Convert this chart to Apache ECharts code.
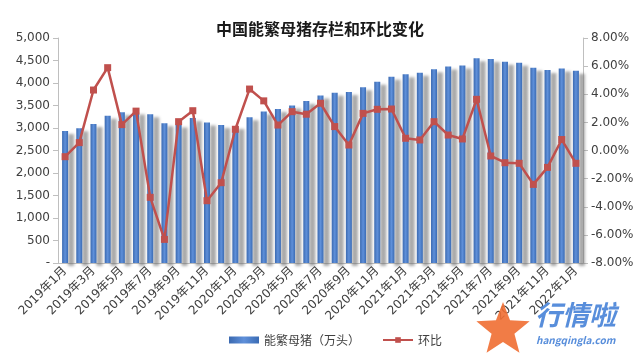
<!DOCTYPE html>
<html>
<head>
<meta charset="utf-8">
<script src="https://cdn.jsdelivr.net/npm/echarts@6/dist/echarts.min.js"></script>
<style>
html,body{margin:0;padding:0;background:#fff;}
#chart{width:640px;height:359px;}
</style>
</head>
<body>
<div id="chart"></div>
<script>
// 月份
var months = [];
for (var y = 2019; y <= 2022; y++) {
    for (var m = 1; m <= 12; m++) {
        if (y === 2022 && m > 1) break;
        months.push(y + '年' + m + '月');
    }
}

// 能繁母猪存栏（万头）
var sowStock = [2935, 2995, 3090, 3275, 3350, 3365, 3305, 3105, 3080, 3220,
    3125, 3065, 3045, 3240, 3365, 3420, 3500, 3600, 3720, 3785,
    3800, 3905, 4030, 4140, 4195, 4230, 4305, 4365, 4390, 4550,
    4535, 4475, 4450, 4340, 4290, 4325, 4275];

// 环比（%）
var momRate = [-0.44, 0.56, 4.30, 5.89, 1.84, 2.80, -3.33, -6.32, 2.05, 2.83,
    -3.57, -2.29, 1.51, 4.37, 3.53, 1.81, 2.76, 2.58, 3.36, 1.70,
    0.39, 2.64, 2.93, 2.95, 0.87, 0.75, 2.05, 1.10, 0.82, 3.64,
    -0.39, -0.87, -0.91, -2.41, -1.20, 0.78, -0.91];

var leftTicks = { min: 0, max: 5000, step: 500 };
var rightTicks = { min: -8, max: 8, step: 2 };

var FONT = '"Noto Sans CJK SC", "DejaVu Sans", sans-serif';
var NUMFONT = '"DejaVu Sans", "Noto Sans CJK SC", sans-serif';
var TXT = '#404040';
var AXIS = '#bfbfbf';

var chart = echarts.init(document.getElementById('chart'));

var barColor = new echarts.graphic.LinearGradient(0, 0, 1, 0, [
    { offset: 0, color: '#3a69b0' },
    { offset: 0.5, color: '#5f90da' },
    { offset: 1, color: '#3a6bb4' }
]);

// 水印五角星
function starPoints(cx, cy, ro, ri) {
    var pts = [];
    for (var i = 0; i < 10; i++) {
        var r = i % 2 === 0 ? ro : ri;
        var a = -Math.PI / 2 + i * Math.PI / 5;
        pts.push([cx + r * Math.cos(a), cy + r * Math.sin(a)]);
    }
    return pts;
}

chart.setOption({
    animation: false,
    backgroundColor: '#fff',
    title: {
        text: '中国能繁母猪存栏和环比变化',
        left: 'center',
        top: 16,
        textStyle: { fontFamily: FONT, fontSize: 16, fontWeight: 'bold', color: '#1a1a1a' }
    },
    grid: { left: 58, right: 57, top: 38, bottom: 96 },
    legend: {
        bottom: 8,
        left: 224,
        itemWidth: 30,
        itemHeight: 7,
        itemGap: 22,
        textStyle: { fontFamily: FONT, fontSize: 12, color: TXT },
        data: [
            { name: '能繁母猪（万头）', icon: 'rect' },
            { name: '环比' }
        ]
    },
    xAxis: {
        type: 'category',
        data: months,
        axisLine: { lineStyle: { color: AXIS } },
        axisTick: { interval: 1, length: 5, lineStyle: { color: AXIS } },
        axisLabel: {
            interval: 1,
            rotate: 45,
            fontFamily: NUMFONT,
            fontSize: 12,
            color: TXT,
            margin: 6
        }
    },
    yAxis: [
        {
            type: 'value',
            min: leftTicks.min,
            max: leftTicks.max,
            interval: leftTicks.step,
            splitLine: { show: false },
            axisLine: { show: true, lineStyle: { color: AXIS } },
            axisTick: { show: true, length: 5, lineStyle: { color: AXIS } },
            axisLabel: {
                fontFamily: NUMFONT,
                fontSize: 12,
                color: TXT,
                margin: 8,
                formatter: function (v) {
                    return v === 0 ? '-' : v.toLocaleString('en-US');
                }
            }
        },
        {
            type: 'value',
            min: rightTicks.min,
            max: rightTicks.max,
            interval: rightTicks.step,
            splitLine: { show: false },
            axisLine: { show: true, lineStyle: { color: AXIS } },
            axisTick: { show: true, length: 5, lineStyle: { color: AXIS } },
            axisLabel: {
                fontFamily: NUMFONT,
                fontSize: 12,
                color: TXT,
                margin: 8,
                formatter: function (v) {
                    return v.toFixed(2) + '%';
                }
            }
        }
    ],
    series: [
        {
            name: '能繁母猪（万头）',
            type: 'bar',
            data: sowStock,
            barWidth: 6,
            itemStyle: {
                color: barColor,
                shadowColor: 'rgba(110,110,110,0.6)',
                shadowBlur: 3,
                shadowOffsetX: 6,
                shadowOffsetY: 3
            }
        },
        {
            name: '环比',
            type: 'line',
            yAxisIndex: 1,
            data: momRate,
            symbol: 'rect',
            symbolSize: 7,
            lineStyle: { color: '#c0504d', width: 2.5 },
            itemStyle: { color: '#c0504d' }
        }
    ],
    graphic: [
        {
            type: 'polygon',
            shape: { points: starPoints(503, 330, 28, 12) },
            style: { fill: 'rgba(240,110,50,0.9)' },
            z: 100
        },
        {
            type: 'text',
            left: 535,
            top: 301,
            style: {
                text: '行情啦',
                fontFamily: FONT,
                fontSize: 27,
                fontWeight: 'bold',
                fontStyle: 'italic',
                fill: 'rgba(70,130,215,0.9)'
            },
            z: 100
        },
        {
            type: 'text',
            left: 536,
            top: 335,
            style: {
                text: 'hangqingla.com',
                fontFamily: FONT,
                fontSize: 10,
                fontWeight: 'bold',
                fontStyle: 'italic',
                fill: 'rgba(70,130,215,0.9)'
            },
            z: 100
        }
    ]
});
</script>
</body>
</html>
